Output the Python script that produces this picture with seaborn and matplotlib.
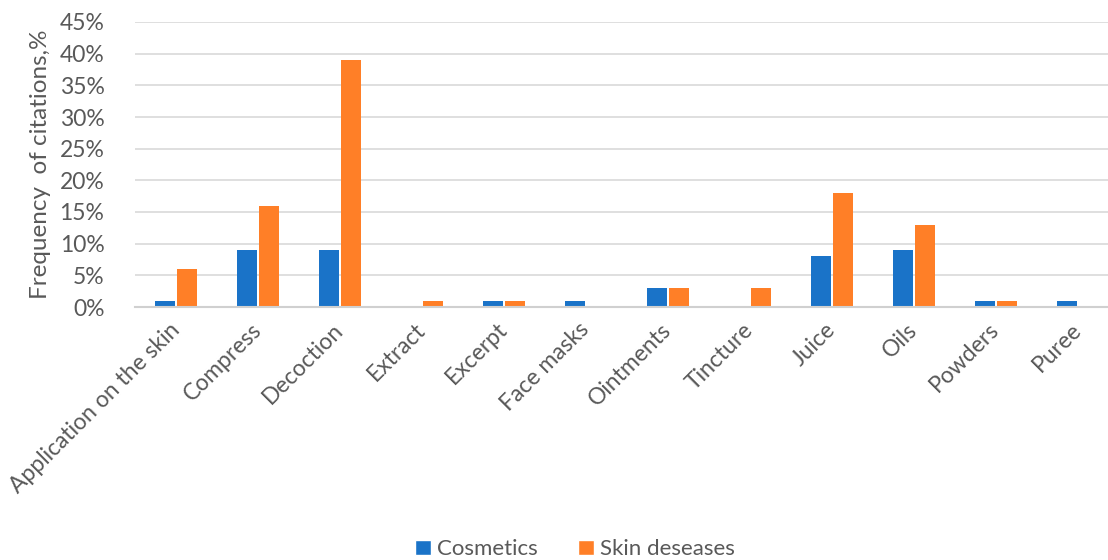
import matplotlib
matplotlib.use("Agg")
import matplotlib.pyplot as plt
from matplotlib.patches import Patch
from matplotlib.ticker import PercentFormatter, MultipleLocator
import seaborn as sns
import pandas as pd

categories = ["Application on the skin", "Compress", "Decoction", "Extract", "Excerpt",
              "Face masks", "Ointments", "Tincture", "Juice", "Oils", "Powders", "Puree"]
cosmetics = [1, 9, 9, 0, 1, 1, 3, 0, 8, 9, 1, 1]
skin_diseases = [6, 16, 39, 1, 1, 0, 3, 3, 18, 13, 1, 0]
series_names = ["Cosmetics", "Skin deseases"]
colors = ["#1A73C8", "#FF7F27"]

df = pd.DataFrame({
    "category": categories * 2,
    "value": cosmetics + skin_diseases,
    "series": [series_names[0]] * len(categories) + [series_names[1]] * len(categories),
})

sns.set_theme(style="white")
plt.rcParams["font.family"] = ["Lato", "DejaVu Sans"]
text_color = "#595959"
fs = 16.5

fig = plt.figure(figsize=(11.08, 5.6), dpi=100)
ax = fig.add_axes([135 / 1108, (560 - 307) / 560, (1108 - 135) / 1108, (307 - 22) / 560])

sns.barplot(data=df, x="category", y="value", hue="series", order=categories,
            hue_order=series_names, palette=colors, saturation=1, width=0.55, gap=0.1,
            linewidth=0, ax=ax, legend=False)

ax.set_ylim(0, 45)
ax.set_xlim(-0.5, 11.5 - 11 / 82)
ax.yaxis.set_major_locator(MultipleLocator(5))
ax.yaxis.set_major_formatter(PercentFormatter(decimals=0))
ax.grid(axis="y", color="#D9D9D9", linewidth=1.2)
ax.set_axisbelow(True)
for side in ["top", "right", "left"]:
    ax.spines[side].set_visible(False)
ax.spines["bottom"].set_color("#D0D0D0")
ax.spines["bottom"].set_linewidth(1.5)

ax.tick_params(axis="y", length=0, pad=22, labelsize=fs, labelcolor=text_color)
ax.tick_params(axis="x", length=0, pad=14, labelsize=fs, labelcolor=text_color)
for lbl in ax.get_xticklabels():
    lbl.set_rotation(45)
    lbl.set_ha("right")
    lbl.set_va("center")
    lbl.set_rotation_mode("anchor")

ax.set_xlabel("")
ax.set_ylabel("Frequency  of citations,%", fontsize=17.5, color=text_color, labelpad=6)

handles = [Patch(facecolor=c, label=n) for c, n in zip(colors, series_names)]
fig.legend(handles=handles, loc="center", bbox_to_anchor=(0.519, 0.019), ncol=2,
           frameon=False, fontsize=16, handlelength=0.7, handleheight=0.7,
           handletextpad=0.3, columnspacing=1.8, labelcolor=text_color)

fig.savefig("out.png", dpi=100)
